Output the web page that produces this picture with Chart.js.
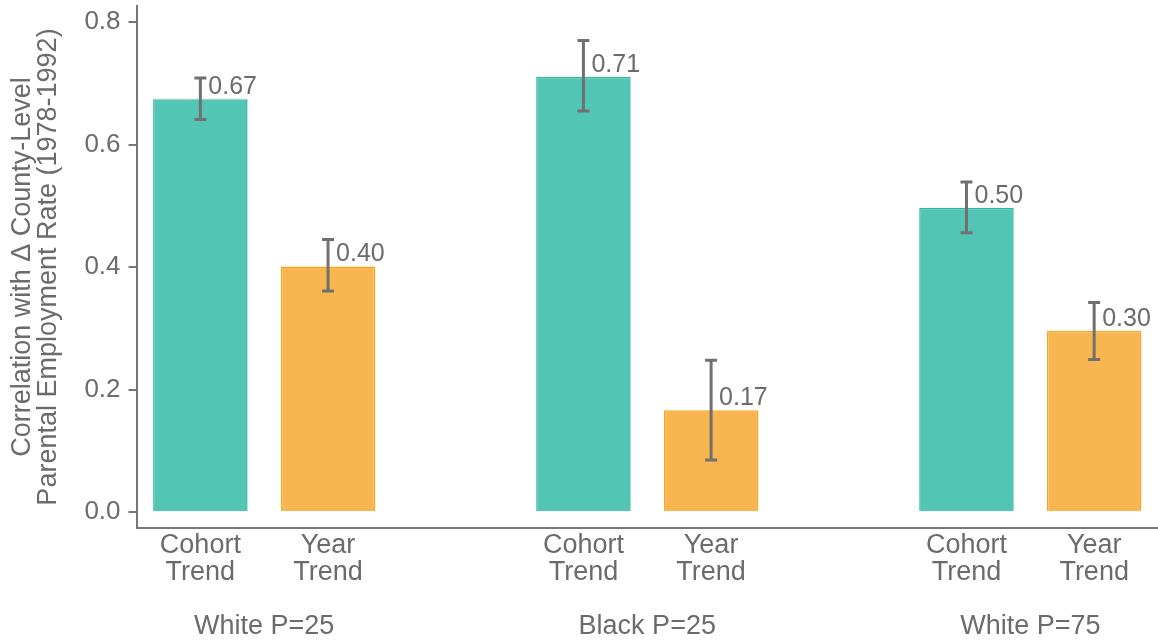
<!DOCTYPE html>
<html>
<head>
<meta charset="utf-8">
<script src="https://cdn.jsdelivr.net/npm/chart.js@4/dist/chart.umd.min.js"></script>
<style>
  html, body { margin: 0; padding: 0; background: #ffffff; }
  #wrap { width: 1158px; height: 643px; }
</style>
</head>
<body>
<div id="wrap"><canvas id="c" width="1158" height="643"></canvas></div>
<script>
// ---- Data ----
const groups = ['White P=25', 'Black P=25', 'White P=75'];
const barLabels = [['Cohort', 'Trend'], ['Year', 'Trend']];
const cohortValues = [0.674, 0.711, 0.497];
const cohortLow    = [0.641, 0.655, 0.456];
const cohortHigh   = [0.709, 0.770, 0.539];
const yearValues   = [0.401, 0.166, 0.296];
const yearLow      = [0.361, 0.085, 0.249];
const yearHigh     = [0.445, 0.248, 0.342];
const yTicks = [0, 0.2, 0.4, 0.6, 0.8];
const yTitle = ['Correlation with \u0394 County-Level', 'Parental Employment Rate (1978-1992)'];

// ---- Styles ----
const TEXT = '#6b6b6b';
const AXIS = '#777777';
const FONT = '"Liberation Sans", Arial, Helvetica, sans-serif';
const cohortFill = '#53C5B5', cohortBorder = '#2FB7A3';
const yearFill = '#F9B54F', yearBorder = '#F7A622';

// build category table (with empty spacer between groups)
const labels = [], values = [], lows = [], highs = [], fills = [], borders = [], groupIdx = [];
groups.forEach((g, i) => {
  if (i > 0) { labels.push(''); values.push(null); lows.push(null); highs.push(null); fills.push('rgba(0,0,0,0)'); borders.push('rgba(0,0,0,0)'); }
  labels.push(barLabels[0]); values.push(cohortValues[i]); lows.push(cohortLow[i]); highs.push(cohortHigh[i]); fills.push(cohortFill); borders.push(cohortBorder);
  labels.push(barLabels[1]); values.push(yearValues[i]); lows.push(yearLow[i]); highs.push(yearHigh[i]); fills.push(yearFill); borders.push(yearBorder);
  groupIdx.push(labels.length - 2);
});

Chart.defaults.font.family = FONT;

const errorBarPlugin = {
  id: 'errorBars',
  afterDatasetsDraw(chart) {
    const ctx = chart.ctx;
    const ys = chart.scales.y;
    const meta = chart.getDatasetMeta(0);
    ctx.save();
    values.forEach((v, i) => {
      if (v === null) return;
      const x = meta.data[i].x;
      const yHi = ys.getPixelForValue(highs[i]);
      const yLo = ys.getPixelForValue(lows[i]);
      ctx.strokeStyle = '#707070';
      ctx.lineWidth = 3;
      ctx.lineCap = 'butt';
      ctx.beginPath();
      ctx.moveTo(x, yHi); ctx.lineTo(x, yLo);
      ctx.moveTo(x - 6, yHi); ctx.lineTo(x + 6, yHi);
      ctx.moveTo(x - 6, yLo); ctx.lineTo(x + 6, yLo);
      ctx.stroke();
      ctx.fillStyle = TEXT;
      ctx.font = '25px ' + FONT;
      ctx.textAlign = 'left';
      ctx.textBaseline = 'alphabetic';
      ctx.fillText(v.toFixed(2), x + 8, ys.getPixelForValue(v) - 5);
    });
    ctx.restore();
  },
  afterDraw(chart) {
    const ctx = chart.ctx;
    const xs = chart.scales.x;
    ctx.save();
    ctx.fillStyle = TEXT;
    ctx.font = '27px ' + FONT;
    ctx.textAlign = 'center';
    ctx.textBaseline = 'middle';
    groups.forEach((g, i) => {
      const a = xs.getPixelForValue(groupIdx[i]);
      const b = xs.getPixelForValue(groupIdx[i] + 1);
      ctx.fillText(g, (a + b) / 2, 627);
    });
    ctx.restore();
  }
};

new Chart(document.getElementById('c'), {
  type: 'bar',
  data: {
    labels: labels,
    datasets: [{
      data: values,
      backgroundColor: fills,
      borderColor: borders,
      borderWidth: 1.5,
      barPercentage: 0.74,
      categoryPercentage: 1.0
    }]
  },
  options: {
    responsive: false,
    devicePixelRatio: 1,
    animation: false,
    layout: { padding: { top: 6, bottom: 53, left: 0, right: 0 } },
    plugins: { legend: { display: false }, tooltip: { enabled: false } },
    scales: {
      x: {
        grid: { display: false, drawTicks: false },
        border: { display: true, color: AXIS, width: 2 },
        ticks: {
          color: TEXT, padding: 4, maxRotation: 0, autoSkip: false,
          font: { size: 27, lineHeight: 1.0 }
        }
      },
      y: {
        min: -0.0262,
        max: 0.8265,
        afterBuildTicks: (s) => { s.ticks = yTicks.map(v => ({ value: v })); },
        afterFit: (s) => { s.paddingTop = 0; s.paddingBottom = 0; },
        grid: { display: true, drawOnChartArea: false, drawTicks: true, tickLength: 8, color: AXIS, lineWidth: 2 },
        border: { display: true, color: AXIS, width: 2 },
        ticks: {
          color: TEXT, padding: 8,
          font: { size: 26, lineHeight: 0.4 },
          callback: (v) => Number(v).toFixed(1)
        },
        title: {
          display: true, text: yTitle, color: TEXT,
          font: { size: 27, lineHeight: 0.97 },
          padding: { top: 9, bottom: 15 }
        }
      }
    }
  },
  plugins: [errorBarPlugin]
});
</script>
</body>
</html>
